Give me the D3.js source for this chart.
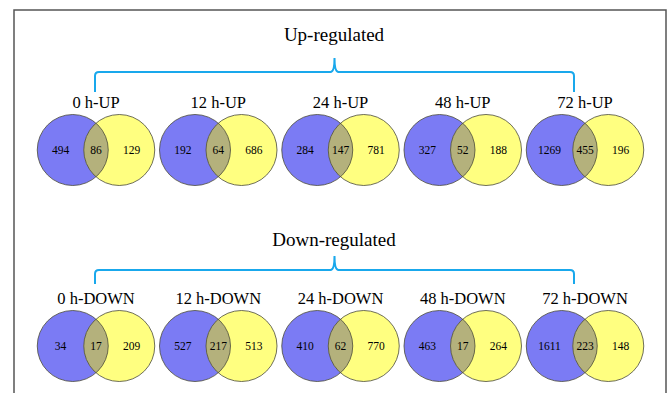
<!DOCTYPE html>
<html>
<head>
<meta charset="utf-8">
<script src="https://cdn.jsdelivr.net/npm/d3@7/dist/d3.min.js"></script>
<style>
  html, body { margin: 0; padding: 0; background: #fff; }
  svg { display: block; }
  text { font-family: "Liberation Serif", "Times New Roman", serif; fill: #000; }
</style>
</head>
<body>
<svg id="chart" width="669" height="393"></svg>
<script>
// Time points and gene counts for each two-set Venn diagram
const timepoints = ["0 h", "12 h", "24 h", "48 h", "72 h"];
const groupTitles = ["Up-regulated", "Down-regulated"];
const groupSuffix = ["UP", "DOWN"];

const upOnlyLeft  = [494, 192, 284, 327, 1269];
const upShared    = [86, 64, 147, 52, 455];
const upOnlyRight = [129, 686, 781, 188, 196];

const downOnlyLeft  = [34, 527, 410, 463, 1611];
const downShared    = [17, 217, 62, 17, 223];
const downOnlyRight = [209, 513, 770, 264, 148];

const groups = [
  { title: groupTitles[0], suffix: groupSuffix[0], left: upOnlyLeft, shared: upShared, right: upOnlyRight },
  { title: groupTitles[1], suffix: groupSuffix[1], left: downOnlyLeft, shared: downShared, right: downOnlyRight }
];

const svg = d3.select("#chart");
const H = 393;

// Frame
svg.append("rect")
  .attr("x", 14).attr("y", 10)
  .attr("width", 652).attr("height", H + 10)
  .attr("fill", "none").attr("stroke", "#555").attr("stroke-width", 1.5);

// Horizontal placement of the five diagrams
const x = d3.scalePoint().domain(timepoints).range([96, 585]);
// Vertical placement of the two groups (diagram rows)
const yGroup = d3.scalePoint().domain(groupTitles).range([0, 196]);
// Heading / bracket layout per group: heading baseline, bracket bar, bracket leg end
const headLayout = [
  { base: 41, bar: 72, leg: 92 },
  { base: 246, bar: 270, leg: 284 }
];

const R = 35.5;      // circle radius
const D = 46.5;      // distance between the two circle centres
const colLeft = "#7b7bf4";
const colRight = "#ffff80";
const colBoth = "#b4b17c";
const braceColor = "#19a8ec";

const defs = svg.append("defs");

groups.forEach((g, gi) => {
  const oy = yGroup(g.title);
  const hl = headLayout[gi];

  // Group heading
  svg.append("text")
    .attr("x", 334).attr("y", hl.base)
    .attr("text-anchor", "middle")
    .attr("font-size", 19)
    .text(g.title);

  // Curly bracket spanning all diagrams
  const xl = 95, xr = 574, xm = (xl + xr) / 2, yb = hl.bar, r = 4;
  const brace = d3.path();
  brace.moveTo(xl, hl.leg);
  brace.lineTo(xl, yb + r);
  brace.quadraticCurveTo(xl, yb, xl + r, yb);
  brace.lineTo(xm - 4, yb);
  brace.quadraticCurveTo(xm, yb, xm, yb - 14);
  brace.quadraticCurveTo(xm, yb, xm + 4, yb);
  brace.lineTo(xr - r, yb);
  brace.quadraticCurveTo(xr, yb, xr, yb + r);
  brace.lineTo(xr, hl.leg);
  svg.append("path")
    .attr("d", brace.toString())
    .attr("fill", "none")
    .attr("stroke", braceColor)
    .attr("stroke-width", 2);

  timepoints.forEach((t, i) => {
    const cx = x(t);
    const cy = 150 + oy;
    const c1 = cx - D / 2, c2 = cx + D / 2;
    const clipId = `clip-${gi}-${i}`;

    defs.append("clipPath").attr("id", clipId)
      .append("circle")
      .attr("cx", c1).attr("cy", cy).attr("r", R);

    svg.append("text")
      .attr("x", cx).attr("y", 108 + oy)
      .attr("text-anchor", "middle")
      .attr("font-size", 16.5)
      .text(`${t}-${g.suffix}`);

    svg.append("circle")
      .attr("cx", c1).attr("cy", cy).attr("r", R)
      .attr("fill", colLeft);
    svg.append("circle")
      .attr("cx", c2).attr("cy", cy).attr("r", R)
      .attr("fill", colRight);
    // Overlap region: second circle clipped to the first
    svg.append("circle")
      .attr("cx", c2).attr("cy", cy).attr("r", R)
      .attr("fill", colBoth)
      .attr("clip-path", `url(#${clipId})`);
    // Outlines
    [c1, c2].forEach(c => {
      svg.append("circle")
        .attr("cx", c).attr("cy", cy).attr("r", R)
        .attr("fill", "none")
        .attr("stroke", "#4a4a3a")
        .attr("stroke-width", 0.8);
    });

    // Region counts
    const lensL = c2 - R, lensR = c1 + R;
    const pos = [
      [(c1 - R + lensL) / 2, g.left[i]],
      [(lensL + lensR) / 2, g.shared[i]],
      [(lensR + c2 + R) / 2, g.right[i]]
    ];
    pos.forEach(([px, v]) => {
      svg.append("text")
        .attr("x", px).attr("y", cy + 4)
        .attr("text-anchor", "middle")
        .attr("font-size", 11.5)
        .text(v);
    });
  });
});
</script>
</body>
</html>
